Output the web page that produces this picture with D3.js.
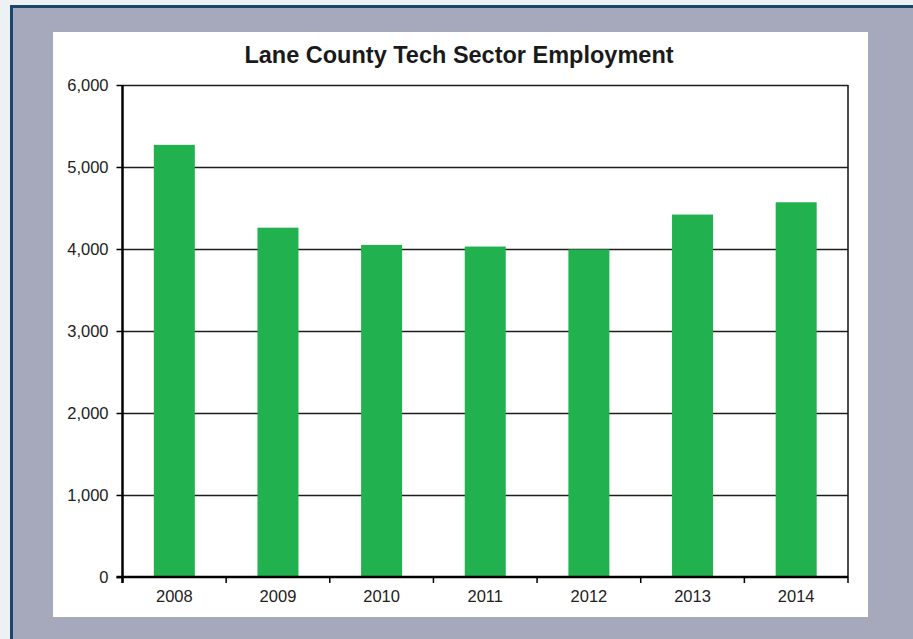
<!DOCTYPE html>
<html>
<head>
<meta charset="utf-8">
<script src="https://d3js.org/d3.v7.min.js"></script>
<style>
    body { margin: 0; background: #eef1f4; }
    svg { display: block; }
</style>
</head>
<body>
<div id="chart"></div>
<script>
const years  = ["2008", "2009", "2010", "2011", "2012", "2013", "2014"];
const values = [5270, 4260, 4050, 4030, 3995, 4420, 4570];
const yTicks = [0, 1000, 2000, 3000, 4000, 5000, 6000];

const W = 913, H = 639;

let svg = d3.select("#chart")
    .append("svg")
    .attr("width", W)
    .attr("height", H);

// frame
svg.append("rect")
    .attr("x", 11.5).attr("y", 6.5)
    .attr("width", W).attr("height", H)
    .attr("fill", "#a6a8bb")
    .attr("stroke", "#1b466b")
    .attr("stroke-width", 3);

svg.append("rect")
    .attr("x", 53).attr("y", 32)
    .attr("width", 815).attr("height", 585)
    .attr("fill", "#ffffff");

svg.append("text")
    .attr("x", 459)
    .attr("y", 63)
    .attr("text-anchor", "middle")
    .attr("style", "font-family: 'Liberation Sans', Arial, sans-serif; font-size: 23.5px; font-weight: bold;")
    .attr("fill", "#1a1a1a")
    .text("Lane County Tech Sector Employment");

let margin = {top: 85, left: 122.5, right: 848, bottom: 577};

let band = d3.scaleBand()
    .domain(years)
    .range([margin.left, margin.right]);

let y = d3.scaleLinear()
    .domain([0, 6000])
    .range([margin.bottom, margin.top]);

// gridlines
svg.append("g")
    .selectAll("line")
    .data(yTicks.filter(d => d > 0))
    .enter()
    .append("line")
    .attr("x1", margin.left).attr("x2", margin.right)
    .attr("y1", d => Math.round(y(d)) + 0.5)
    .attr("y2", d => Math.round(y(d)) + 0.5)
    .attr("stroke", "#1e1e1e")
    .attr("stroke-width", 1.6);

// right border of plot
svg.append("line")
    .attr("x1", margin.right).attr("x2", margin.right)
    .attr("y1", margin.top).attr("y2", margin.bottom)
    .attr("stroke", "#1e1e1e")
    .attr("stroke-width", 1.6);

// bars
svg.append("g")
    .selectAll("rect")
    .data(years)
    .enter()
    .append("rect")
    .attr("x", d => band(d) + band.bandwidth() / 2 - 20.5)
    .attr("width", 41)
    .attr("y", (d, i) => y(values[i]))
    .attr("height", (d, i) => y(0) - y(values[i]))
    .attr("fill", "#21b14f");

// y axis
let yAxis = svg.append("g")
    .attr("transform", "translate(" + margin.left + ",0)")
    .call(d3.axisLeft(y).tickValues(yTicks).tickFormat(d3.format(",")).tickSize(6).tickPadding(8));

// x axis
let xAxis = svg.append("g")
    .attr("transform", "translate(0," + margin.bottom + ")")
    .call(d3.axisBottom(band).tickSize(0).tickPadding(13.5));

// x ticks at category boundaries
svg.append("g")
    .selectAll("line")
    .data(years.concat(["end"]))
    .enter()
    .append("line")
    .attr("x1", (d, i) => margin.left + i * band.step())
    .attr("x2", (d, i) => margin.left + i * band.step())
    .attr("y1", margin.bottom)
    .attr("y2", margin.bottom + 6)
    .attr("stroke", "#000")
    .attr("stroke-width", 1.5);

[yAxis, xAxis].forEach(a => {
    a.select(".domain").attr("stroke", "#000").attr("stroke-width", 2.5);
    a.selectAll(".tick line").attr("stroke", "#000").attr("stroke-width", 1.5);
    a.selectAll("text")
        .attr("fill", "#222")
        .attr("style", "font-family: 'Liberation Sans', Arial, sans-serif; font-size: 16.5px;");
});
yAxis.select(".domain").attr("d", "M0," + margin.top + "V" + (margin.bottom + 6));
xAxis.select(".domain").attr("d", "M" + (margin.left - 6) + ",0H" + margin.right);
</script>
</body>
</html>
